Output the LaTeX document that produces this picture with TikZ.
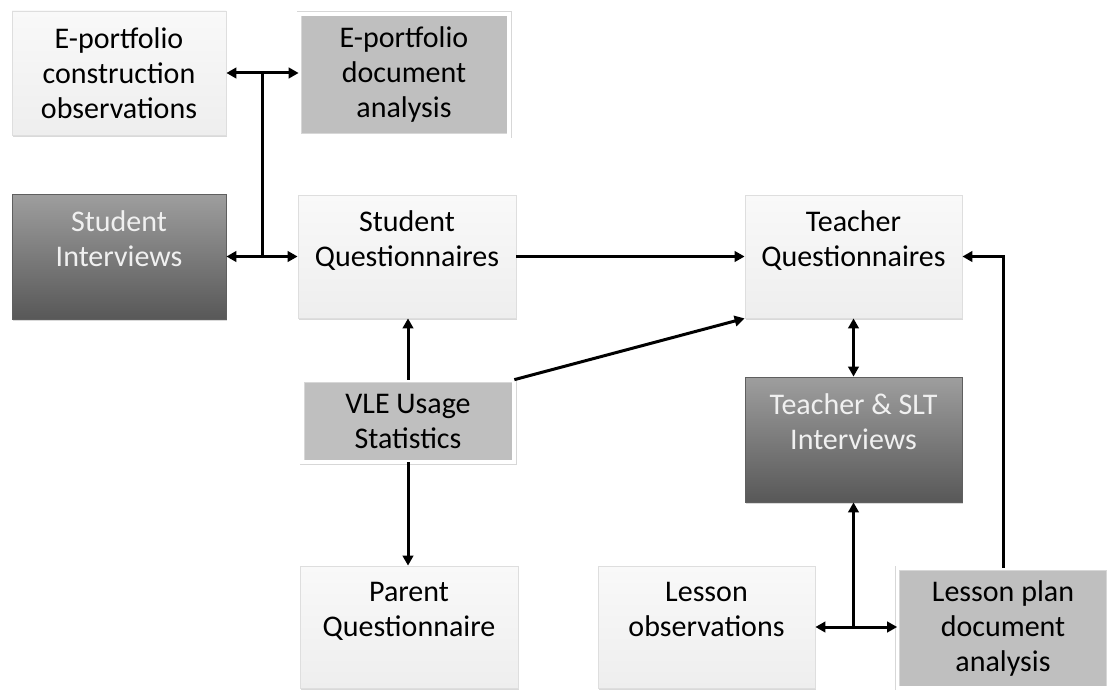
\documentclass[tikz,border=0pt]{standalone}
\usepackage{fontspec}
\setmainfont{Carlito}
\usetikzlibrary{arrows.meta,shadows,calc}
\definecolor{lighttop}{RGB}{249,249,249}
\definecolor{lightbot}{RGB}{238,238,238}
\definecolor{lightline}{RGB}{222,222,222}
\definecolor{midfill}{RGB}{191,191,191}
\definecolor{darktop}{RGB}{158,158,158}
\definecolor{darkbot}{RGB}{88,88,88}
\definecolor{darkline}{RGB}{95,95,95}
\definecolor{shadowc}{RGB}{120,120,120}
\definecolor{frameline}{RGB}{215,215,215}
\tikzset{
  basebox/.style={rectangle, inner sep=0pt, align=center,
    font=\fontsize{30}{35}\selectfont,
    drop shadow={shadow xshift=0.8pt, shadow yshift=-2.2pt, opacity=0.28, fill=shadowc}},
  lightbox/.style={basebox, top color=lighttop, bottom color=lightbot, draw=lightline, line width=0.8pt, text=black},
  midbox/.style={basebox, fill=midfill, draw=frameline, line width=0.7pt, double=white, double distance=3.6pt, text=black},
  darkbox/.style={basebox, top color=darktop, bottom color=darkbot, draw=darkline, line width=0.8pt, text=white!94!black},
  conn/.style={line width=3pt, draw=black},
  tip/.style={conn, -{Triangle[length=10pt,width=10.5pt]}},
  dtip/.style={conn, {Triangle[length=10pt,width=10.5pt]}-{Triangle[length=10pt,width=10.5pt]}}
}
\begin{document}
\begin{tikzpicture}[x=1pt,y=-1pt]
\useasboundingbox[fill=white] (0,0) rectangle (1108,690);

\node[lightbox, minimum width=214pt, minimum height=124pt] (eco) at (119,73) {E-portfolio\\construction\\observations};
\node[midbox, minimum width=210pt, minimum height=122pt] (eda) at (404,75) {E-portfolio\\document\\analysis};
\node[darkbox, minimum width=214pt, minimum height=125pt] (si) at (119,256.5) {Student\\Interviews\\~};
\node[lightbox, minimum width=218pt, minimum height=123pt] (sq) at (407,256.5) {Student\\Questionnaires\\~};
\node[lightbox, minimum width=217pt, minimum height=123pt] (tq) at (853.5,256.5) {Teacher\\Questionnaires\\~};
\node[midbox, minimum width=212pt, minimum height=82pt] (vle) at (408,421) {VLE Usage\\Statistics};
\node[darkbox, minimum width=217pt, minimum height=125pt] (tsi) at (853.5,439.5) {Teacher \& SLT\\Interviews\\~};
\node[lightbox, minimum width=218pt, minimum height=122pt] (pq) at (409,627) {Parent\\Questionnaire\\~};
\node[lightbox, minimum width=217pt, minimum height=122pt] (lo) at (706.5,627) {Lesson\\observations\\~};
\node[midbox, minimum width=211pt, minimum height=120pt] (lpd) at (1003,628) {Lesson plan\\document\\analysis};

\coordinate (j1) at ($(eco.east)!0.5!(eda.west |- eco.east)$);
\coordinate (j2) at (j1 |- si.east);
\draw[conn] (j1) -- (j2);
\draw[tip] (j1) -- (eco.east);
\draw[tip] (j1) -- (eda.west |- j1);
\draw[tip] (j2) -- (si.east);
\draw[tip] (j2) -- (sq.west |- j2);

\draw[tip] (sq.east) -- (tq.west |- sq.east);
\draw[tip] (vle.north) -- (vle.north |- sq.south);
\draw[tip] (vle.north east) -- (tq.south west);
\draw[tip] (vle.south) -- (vle.south |- pq.north);
\draw[dtip] (tq.south) -- (tsi.north);

\coordinate (j3) at (tsi.south |- lo.east);
\draw[tip] (j3) -- (tsi.south);
\draw[tip] (j3) -- (lo.east);
\draw[tip] (j3) -- (lpd.west |- j3);
\draw[tip] (lpd.north) |- (tq.east);
\end{tikzpicture}
\end{document}
